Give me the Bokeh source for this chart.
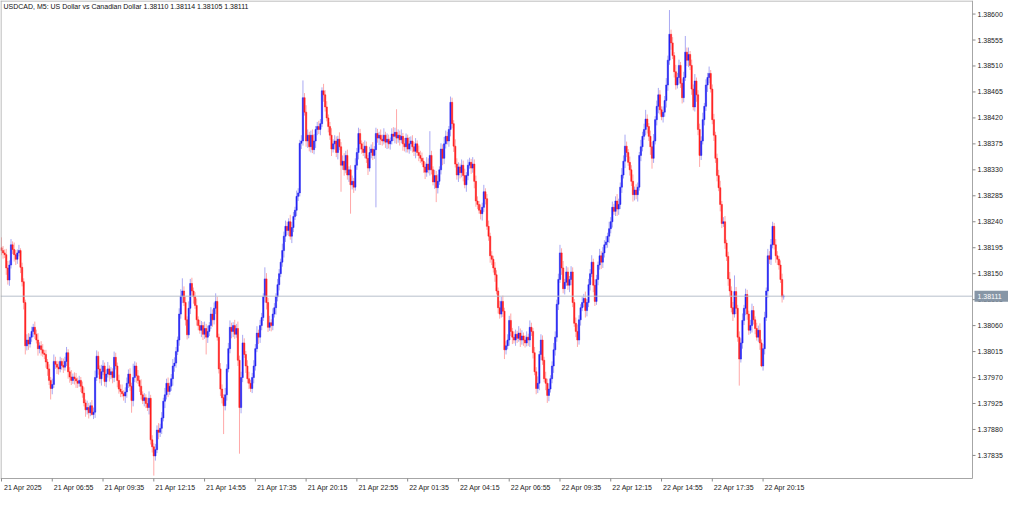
from bokeh.plotting import figure
from bokeh.models import ColumnDataSource, Range1d, FixedTicker, Label
from bokeh.core.properties import value
from bokeh.embed import file_html
from bokeh.resources import INLINE

# ---------------- data (prices in points above 1.38000, 1 point = 0.00001) ----------------
BASE = 1.38
POINT = 0.00001
first_open = 195

closes = [
    190, 186, 183, 160, 139, 165, 200, 192, 183, 175,
    186, 190, 161, 136, 100, 25, 35, 28, 40, 50,
    57, 45, 35, 20, 25, 18, 12, 10, -3, -15,
    -35, -49, -42, -2, -7, -12, -15, -2, -9, -12,
    -2, 13, -20, -29, -35, -29, -32, -36, -40, -35,
    -45, -57, -74, -86, -82, -91, -79, -94, -90, -30,
    7, -15, -32, -20, -10, -37, -24, -15, -25, -20,
    -30, 5, -10, -35, -50, -54, -58, -62, -55, -40,
    -24, -45, -70, -30, -10, -27, -35, -45, -60, -70,
    -65, -75, -82, -66, -138, -150, -166, -155, -121, -125,
    -118, -100, -71, -60, -40, -54, -45, -32, -10, -5,
    15, 35, 80, 111, 120, 100, 70, 44, 90, 133,
    120, 110, 95, 70, 60, 52, 60, 45, 55, 40,
    50, 60, 80, 70, 90, 102, 40, -15, -50, -65,
    -79, -60, -15, 20, 57, 50, 60, 45, 55, 0,
    -82, -30, 30, 10, -10, -32, -40, -49, -30, -10,
    20, 47, 40, 60, 74, 110, 141, 100, 57, 65,
    60, 80, 91, 110, 131, 150, 170, 190, 215, 232,
    225, 240, 215, 230, 249, 260, 284, 290, 376, 380,
    455, 430, 380, 390, 370, 390, 365, 380, 400, 405,
    400, 410, 467, 460, 439, 420, 405, 390, 366, 375,
    380, 360, 383, 370, 338, 345, 330, 355, 321, 330,
    304, 310, 300, 338, 360, 393, 375, 366, 360, 371,
    350, 333, 360, 366, 355, 365, 393, 385, 390, 383,
    380, 390, 378, 383, 375, 380, 392, 388, 395, 385,
    390, 382, 388, 375, 370, 385, 366, 375, 380, 370,
    362, 375, 360, 355, 350, 345, 335, 326, 340, 330,
    355, 330, 309, 320, 299, 310, 330, 366, 350, 375,
    388, 380, 400, 447, 410, 371, 340, 321, 335, 325,
    338, 320, 304, 320, 338, 343, 333, 340, 310, 276,
    270, 260, 254, 265, 292, 280, 232, 215, 181, 175,
    160, 148, 120, 91, 80, 102, 85, 18, 25, 35,
    69, 50, 40, 35, 45, 38, 47, 35, 42, 35,
    30, 40, 35, 57, 50, 13, -20, -49, -40, 10,
    35, 0, -32, -40, -61, -50, -32, -10, 18, 40,
    97, 140, 186, 160, 124, 135, 153, 130, 140, 153,
    100, 64, 50, 35, 70, 91, 100, 107, 86, 100,
    131, 150, 170, 130, 102, 140, 165, 181, 170, 186,
    200, 205, 215, 228, 240, 265, 258, 276, 262, 270,
    300, 321, 345, 371, 360, 343, 330, 310, 287, 295,
    287, 300, 355, 370, 388, 400, 418, 405, 388, 370,
    350, 380, 417, 440, 460, 434, 422, 430, 450, 477,
    520, 565, 550, 528, 500, 477, 490, 511, 480, 455,
    490, 534, 520, 530, 511, 470, 439, 484, 460, 400,
    355, 380, 417, 440, 477, 490, 497, 470, 417, 390,
    350, 320, 299, 270, 237, 240, 203, 180, 141, 120,
    91, 80, 119, 90, 40, 2, 30, 69, 90, 114,
    80, 52, 60, 86, 70, 55, 40, 52, 30, -10,
    20, 74, 120, 181, 175, 200, 232, 200, 181, 175,
    165, 140, 110, 111,
]

wick_up = [
    18, 8, 6, 10, 12, 8, 10, 6, 12, 8,
    6, 10, 4, 8, 6, 5, 10, 12, 6, 8,
    6, 10, 8, 12, 6, 8, 10, 6, 8, 5,
    8, 6, 10, 12, 8, 6, 10, 8, 6, 12,
    8, 10, 6, 8, 12, 6, 8, 10, 6, 8,
    6, 8, 10, 6, 12, 8, 6, 10, 8, 12,
    10, 8, 6, 12, 10, 6, 8, 12, 6, 8,
    6, 10, 8, 6, 10, 8, 12, 6, 8, 10,
    8, 10, 6, 24, 8, 6, 10, 8, 12, 6,
    8, 6, 10, 12, 6, 8, 6, 10, 8, 12,
    8, 10, 6, 12, 8, 10, 6, 8, 12, 10,
    8, 6, 10, 12, 22, 8, 10, 6, 12, 8,
    10, 6, 8, 12, 6, 10, 8, 6, 12, 8,
    10, 6, 12, 8, 10, 14, 8, 6, 10, 8,
    6, 12, 8, 10, 12, 8, 6, 10, 8, 12,
    8, 10, 14, 8, 6, 10, 12, 6, 8, 10,
    8, 12, 6, 10, 8, 6, 20, 10, 8, 12,
    6, 10, 8, 6, 10, 8, 6, 12, 8, 10,
    8, 6, 12, 10, 8, 6, 10, 8, 6, 10,
    30, 8, 12, 10, 6, 8, 10, 12, 6, 8,
    10, 8, 6, 12, 8, 10, 6, 8, 12, 8,
    10, 8, 6, 12, 8, 10, 14, 8, 10, 6,
    8, 10, 6, 12, 8, 10, 8, 6, 12, 10,
    8, 6, 10, 8, 12, 6, 10, 8, 6, 10,
    8, 12, 6, 10, 8, 6, 10, 12, 8, 40,
    10, 8, 12, 6, 10, 8, 6, 12, 8, 10,
    8, 10, 6, 12, 8, 10, 6, 8, 12, 10,
    42, 8, 6, 10, 8, 12, 6, 10, 8, 12,
    10, 8, 6, 10, 8, 6, 12, 10, 8, 6,
    10, 8, 12, 6, 10, 8, 6, 12, 8, 10,
    8, 6, 10, 8, 12, 6, 8, 10, 6, 8,
    6, 10, 8, 6, 12, 8, 10, 6, 8, 10,
    8, 12, 6, 10, 8, 6, 12, 8, 10, 6,
    8, 10, 6, 12, 8, 6, 10, 8, 12, 6,
    10, 8, 6, 12, 8, 10, 6, 8, 12, 10,
    8, 10, 14, 8, 12, 6, 10, 8, 6, 10,
    8, 6, 10, 12, 8, 6, 10, 8, 12, 6,
    10, 8, 12, 6, 10, 8, 6, 12, 8, 10,
    8, 10, 6, 12, 8, 10, 6, 8, 12, 10,
    8, 12, 10, 20, 8, 6, 10, 8, 12, 6,
    10, 8, 6, 12, 8, 10, 16, 8, 6, 10,
    8, 12, 6, 10, 12, 8, 6, 10, 8, 12,
    8, 42, 8, 10, 6, 12, 8, 10, 6, 8,
    10, 28, 8, 12, 6, 10, 8, 12, 6, 8,
    10, 8, 12, 6, 10, 8, 12, 6, 8, 10,
    6, 8, 10, 12, 6, 8, 10, 6, 8, 12,
    8, 10, 28, 8, 6, 10, 8, 12, 6, 10,
    8, 6, 10, 12, 8, 6, 10, 8, 12, 6,
    8, 10, 6, 12, 8, 10, 8, 6, 10, 8,
    6, 8, 10, 3,
]

wick_dn = [
    8, 10, 6, 12, 8, 10, 6, 8, 12, 10,
    8, 6, 10, 8, 12, 15, 8, 10, 6, 8,
    10, 8, 6, 12, 8, 10, 6, 8, 10, 12,
    8, 19, 10, 6, 8, 12, 10, 6, 8, 10,
    6, 8, 12, 10, 8, 6, 10, 12, 8, 6,
    10, 8, 6, 12, 8, 10, 6, 2, 8, 10,
    6, 10, 8, 12, 6, 8, 10, 6, 12, 8,
    10, 8, 6, 12, 8, 10, 6, 8, 12, 10,
    8, 8, 21, 10, 8, 12, 6, 10, 8, 6,
    10, 8, 6, 12, 8, 10, 34, 8, 6, 12,
    8, 10, 6, 12, 8, 10, 6, 8, 12, 10,
    8, 6, 10, 8, 12, 6, 10, 8, 6, 10,
    8, 12, 6, 10, 8, 6, 12, 10, 8, 30,
    10, 8, 6, 12, 8, 10, 6, 8, 12, 10,
    49, 8, 10, 6, 8, 12, 10, 8, 6, 10,
    80, 10, 8, 6, 12, 8, 10, 6, 8, 10,
    8, 6, 12, 10, 8, 6, 10, 12, 8, 6,
    10, 8, 6, 12, 8, 10, 6, 8, 12, 10,
    8, 10, 6, 12, 8, 6, 10, 8, 6, 10,
    8, 6, 10, 12, 8, 10, 6, 8, 12, 10,
    8, 10, 6, 12, 8, 6, 10, 8, 12, 6,
    10, 8, 12, 6, 46, 8, 10, 6, 8, 12,
    50, 8, 10, 6, 8, 12, 10, 8, 6, 10,
    8, 12, 6, 10, 8, 6, 100, 8, 12, 10,
    8, 6, 10, 12, 8, 10, 6, 8, 12, 10,
    8, 10, 6, 12, 8, 10, 6, 8, 12, 10,
    8, 12, 6, 10, 8, 6, 10, 12, 8, 6,
    10, 8, 6, 12, 25, 10, 6, 8, 12, 10,
    8, 6, 10, 12, 8, 10, 6, 8, 12, 10,
    8, 10, 6, 12, 8, 6, 10, 8, 12, 10,
    8, 6, 10, 12, 8, 10, 6, 8, 12, 10,
    8, 12, 6, 10, 8, 6, 10, 16, 8, 6,
    10, 8, 12, 6, 10, 8, 6, 12, 8, 10,
    8, 6, 10, 12, 8, 10, 6, 10, 8, 12,
    10, 8, 6, 12, 13, 10, 6, 8, 12, 10,
    8, 10, 6, 12, 8, 10, 6, 8, 12, 10,
    8, 6, 10, 12, 8, 10, 6, 8, 12, 10,
    8, 10, 6, 12, 8, 6, 10, 8, 12, 10,
    8, 6, 10, 12, 8, 10, 6, 8, 12, 10,
    8, 10, 6, 12, 8, 6, 10, 8, 12, 10,
    8, 12, 6, 10, 8, 6, 10, 12, 8, 14,
    18, 8, 6, 10, 12, 8, 6, 10, 8, 12,
    10, 8, 12, 6, 10, 8, 6, 12, 8, 10,
    8, 6, 10, 12, 8, 10, 6, 8, 12, 10,
    20, 8, 6, 10, 8, 12, 10, 6, 8, 10,
    8, 10, 6, 12, 8, 6, 10, 8, 12, 10,
    8, 12, 6, 10, 8, 46, 6, 10, 8, 12,
    10, 8, 6, 12, 8, 10, 6, 8, 12, 2,
    8, 10, 6, 12, 8, 10, 6, 8, 12, 10,
    8, 6, 10, 5,
]

x_tick_bars = [0, 32, 64, 96, 128, 160, 192, 224, 256, 288, 320, 352, 384, 416, 448, 480]
x_tick_labels = [
    "21 Apr 2025", "21 Apr 06:55", "21 Apr 09:35", "21 Apr 12:15", "21 Apr 14:55",
    "21 Apr 17:35", "21 Apr 20:15", "21 Apr 22:55", "22 Apr 01:35", "22 Apr 04:15",
    "22 Apr 06:55", "22 Apr 09:35", "22 Apr 12:15", "22 Apr 14:55", "22 Apr 17:35",
    "22 Apr 20:15",
]
y_ticks = [1.37835, 1.37880, 1.37925, 1.37970, 1.38015, 1.38060, 1.38105, 1.38150, 1.38195,
           1.38240, 1.38285, 1.38330, 1.38375, 1.38420, 1.38465, 1.38510, 1.38555, 1.38600]
last_price = 1.38111
last_price_text = "1.38111"
title_text = "USDCAD, M5:  US Dollar vs Canadian Dollar  1.38110 1.38114 1.38105 1.38111"

# ---------------- build OHLC ----------------
n = min(len(closes), len(wick_up), len(wick_dn))
opens = [first_open] + closes[:n - 1]
idx = list(range(n))
o = [BASE + v * POINT for v in opens[:n]]
c = [BASE + v * POINT for v in closes[:n]]
hi = [max(a, b) + u * POINT for a, b, u in zip(o, c, wick_up)]
lo = [min(a, b) - d * POINT for a, b, d in zip(o, c, wick_dn)]

BULL, BEAR, DOJI = "#2222f2", "#ff1e1e", "#909090"
BULL_W, BEAR_W, DOJI_W = "#a9a9f3", "#ffa8a8", "#bbbbbb"
col, wcol = [], []
for a, b in zip(o, c):
    if b > a + 1e-9:
        col.append(BULL); wcol.append(BULL_W)
    elif b < a - 1e-9:
        col.append(BEAR); wcol.append(BEAR_W)
    else:
        col.append(DOJI); wcol.append(DOJI_W)

src = ColumnDataSource(dict(x=idx, hi=hi, lo=lo,
                            top=[max(a, b) for a, b in zip(o, c)],
                            bot=[min(a, b) for a, b in zip(o, c)],
                            col=col, wcol=wcol))

# ---------------- layout (pixels) ----------------
FONT = "Liberation Sans"
W, H = 1008, 493
BB = 11                 # bottom panel holding the date labels
FW, FH = W, H - BB      # plotting frame
CW, CH = 972, 478       # chart box inside the frame
bar_lo, bar_hi = -0.62, 612.0
p_top, p_bot = 1.386235, 1.37795
ppx = CW / (bar_hi - bar_lo)
ppy = CH / (p_top - p_bot)


def X(px):
    return bar_lo + px / ppx


def Y(py):
    return p_top - py / ppy


p = figure(width=W, height=H, output_backend="svg", toolbar_location=None,
           x_range=Range1d(bar_lo, X(FW)), y_range=Range1d(Y(FH), p_top),
           y_axis_location=None, min_border_left=0, min_border_top=0,
           min_border_right=0, min_border_bottom=BB)
p.background_fill_color = "white"
p.border_fill_color = "white"
p.outline_line_color = None
p.xgrid.visible = False
p.ygrid.visible = False

# candles
p.segment(x0="x", y0="hi", x1="x", y1="lo", source=src, line_color="wcol", line_width=1)
p.vbar(x="x", width=0.8, top="top", bottom="bot", source=src,
       fill_color="col", line_color="col", line_width=0.5)

# current price line
p.segment(x0=[bar_lo], y0=[last_price], x1=[bar_hi], y1=[last_price],
          line_color="#b7bfcc", line_width=1)

# chart box
GRAY = "#a6a6a6"
p.segment(x0=[X(0.5), X(0), X(0), bar_hi], y0=[Y(0), Y(0.5), p_bot, Y(0)],
          x1=[X(0.5), bar_hi, bar_hi, bar_hi], y1=[p_bot, Y(0.5), p_bot, p_bot],
          line_color=GRAY, line_width=1)

# price scale: tick marks and labels
vis_ticks = [t for t in y_ticks if p_bot <= t <= p_top]
p.segment(x0=[bar_hi] * len(vis_ticks), y0=vis_ticks, x1=[X(CW + 3)] * len(vis_ticks),
          y1=vis_ticks, line_color="#8a8a8a", line_width=1)
p.text(x=[X(CW + 5)] * len(vis_ticks), y=vis_ticks, text=["%.5f" % t for t in vis_ticks],
       text_font=value(FONT), text_font_size="7px", text_color="#222222",
       text_baseline="middle", text_align="left")

# current price box on the price scale
p.quad(left=[X(CW + 2)], right=[X(CW + 36)], top=[last_price + 5.5 / ppy],
       bottom=[last_price - 5.5 / ppy], fill_color="#8796a6", line_color=None)
p.text(x=[X(CW + 5)], y=[last_price], text=[last_price_text], text_font=value(FONT),
       text_font_size="7px", text_color="white", text_baseline="middle", text_align="left")

# time scale: tick marks just under the chart box
p.segment(x0=x_tick_bars, y0=[p_bot] * len(x_tick_bars), x1=x_tick_bars,
          y1=[Y(CH + 3)] * len(x_tick_bars), line_color="#8a8a8a", line_width=1)

# date labels (real axis), each starting just right of its tick mark
label_centers = [b + 13.6 for b in x_tick_bars]
xa = p.xaxis[0]
xa.ticker = FixedTicker(ticks=label_centers)
xa.major_label_overrides = {lc: lab for lc, lab in zip(label_centers, x_tick_labels)}
xa.axis_line_color = None
xa.major_tick_line_color = None
xa.major_tick_in = 0
xa.major_tick_out = 0
xa.minor_tick_line_color = None
xa.major_label_text_font = FONT
xa.major_label_text_font_size = "7px"
xa.major_label_text_color = "#222222"
xa.major_label_standoff = 1

# chart title inside the box
p.add_layout(Label(x=X(3), y=p_top, y_offset=-2, text=title_text, text_font=FONT,
                   text_font_size="7px", text_color="#111111", text_baseline="top",
                   text_align="left"))

open("out.html", "w").write(file_html(p, INLINE))
